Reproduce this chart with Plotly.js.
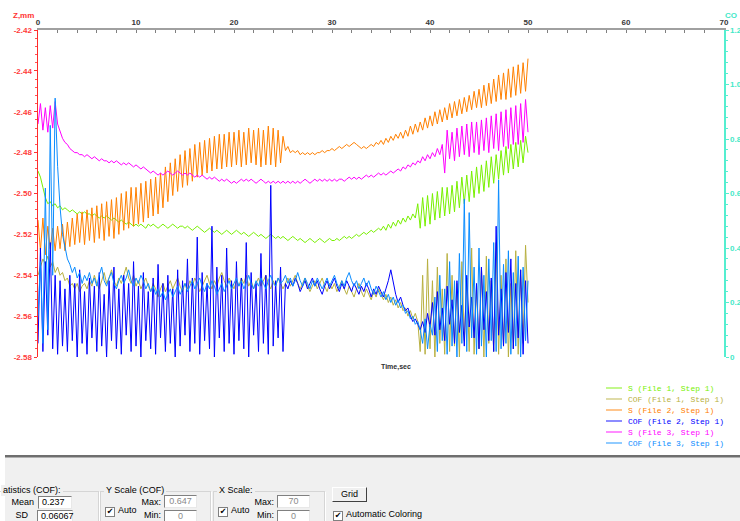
<!DOCTYPE html>
<html><head><meta charset="utf-8">
<script src="https://cdn.plot.ly/plotly-3.0.1.min.js"></script>
<style>
html,body{margin:0;padding:0;background:#fff;}
#wrap{position:relative;width:740px;height:521px;overflow:hidden;font-family:'Liberation Sans',Arial,sans-serif;}
#chart{position:absolute;left:0;top:0;width:740px;height:521px;}
.ui{position:absolute;font-size:9px;color:#000;white-space:nowrap;line-height:11px;}
.r{text-align:right;}
.panel{position:absolute;left:5px;top:455px;width:740px;height:70px;background:#f0f0f0;border-top:2px solid #6e6e6e;box-shadow:inset 0 1px 0 #b0b0b0;}
.grp{position:absolute;border:1px solid #d5d5d5;box-shadow:1px 1px 0 #fff;}
.lbl{position:absolute;background:#f0f0f0;padding:0 2px;font-size:9px;line-height:11px;white-space:nowrap;}
.tb{position:absolute;background:#fff;border-top:1px solid #808080;border-left:1px solid #808080;border-right:1px solid #e8e8e8;border-bottom:1px solid #e8e8e8;font-size:9px;line-height:11px;text-align:center;white-space:nowrap;}
.cb{position:absolute;width:8px;height:8px;background:#fff;border:1px solid #808080;font-size:8px;line-height:8px;text-align:center;font-family:'DejaVu Sans';}
.btn{position:absolute;background:#f0f0f0;border-top:1px solid #fff;border-left:1px solid #fff;border-right:1px solid #404040;border-bottom:1px solid #404040;font-size:9px;line-height:12px;text-align:center;}
</style></head>
<body>
<div id="wrap">
<div id="chart"></div>
<div class="panel"></div>
<div class="grp" style="left:-10px;top:491px;width:107px;height:40px;"></div>
<div class="lbl" style="left:1px;top:485px;">atistics (COF):</div>
<div class="ui r" style="left:6px;width:28px;top:497px;">Mean</div>
<div class="tb" style="left:38px;top:496px;width:32px;height:11px;text-align:left;padding-left:3px;width:29px;">0.237</div>
<div class="ui r" style="left:6px;width:22px;top:510px;">SD</div>
<div class="tb" style="left:37px;top:510px;width:31px;height:10px;padding-left:3px;text-align:left;">0.06067</div>
<div class="grp" style="left:100px;top:491px;width:109px;height:40px;"></div>
<div class="lbl" style="left:104px;top:485px;">Y Scale (COF)</div>
<div class="cb" style="left:105px;top:507px;">✔</div>
<div class="ui" style="left:118px;top:505px;">Auto</div>
<div class="ui r" style="left:130px;width:31px;top:497px;">Max:</div>
<div class="tb" style="left:164px;top:495px;width:31px;height:11px;color:#8a8a8a;">0.647</div>
<div class="ui r" style="left:130px;width:31px;top:510px;">Min:</div>
<div class="tb" style="left:164px;top:510px;width:31px;height:10px;color:#8a8a8a;">0</div>
<div class="grp" style="left:213px;top:491px;width:110px;height:40px;"></div>
<div class="lbl" style="left:217px;top:485px;">X Scale:</div>
<div class="cb" style="left:218px;top:507px;">✔</div>
<div class="ui" style="left:231px;top:505px;">Auto</div>
<div class="ui r" style="left:243px;width:31px;top:497px;">Max:</div>
<div class="tb" style="left:277px;top:495px;width:31px;height:11px;color:#8a8a8a;">70</div>
<div class="ui r" style="left:243px;width:31px;top:510px;">Min:</div>
<div class="tb" style="left:277px;top:510px;width:31px;height:10px;color:#8a8a8a;">0</div>
<div class="btn" style="left:332px;top:487px;width:33px;height:13px;">Grid</div>
<div class="cb" style="left:333px;top:511px;">✔</div>
<div class="ui" style="left:346px;top:509px;">Automatic Coloring</div>
</div>
<script>
// ---------- data (sampled every 0.25 s from t = 0 to 50 s) ----------
const sampleStart = 0;
const sampleStep = 0.25;

const seriesNames = ['S (File 1, Step 1)','COF (File 1, Step 1)','S (File 2, Step 1)','COF (File 2, Step 1)','S (File 3, Step 1)','COF (File 3, Step 1)'];

// Z, mm (left axis)
const sFile1 = [
-2.489,-2.492,-2.497,-2.502,-2.505,-2.504,-2.506,-2.505,-2.507,
-2.506,-2.508,-2.507,-2.508,-2.509,-2.508,-2.509,-2.510,-2.509,-2.510,-2.509,-2.510,
-2.510,-2.511,-2.510,-2.511,-2.512,-2.511,-2.512,-2.511,-2.512,-2.513,-2.512,-2.513,-2.514,-2.513,-2.514,-2.515,-2.514,-2.515,-2.516,-2.515,
-2.516,-2.515,-2.516,-2.517,-2.515,-2.516,-2.515,-2.516,-2.517,-2.516,-2.515,-2.516,-2.517,-2.516,-2.515,-2.516,-2.517,-2.516,-2.516,-2.517,
-2.516,-2.517,-2.518,-2.517,-2.516,-2.517,-2.518,-2.519,-2.518,-2.517,-2.518,-2.519,-2.518,-2.519,-2.520,-2.519,-2.518,-2.519,-2.520,-2.519,
-2.518,-2.519,-2.520,-2.519,-2.520,-2.521,-2.520,-2.519,-2.520,-2.521,-2.520,-2.521,-2.522,-2.521,-2.520,-2.521,-2.522,-2.521,-2.522,-2.521,
-2.522,-2.523,-2.522,-2.521,-2.522,-2.523,-2.522,-2.523,-2.524,-2.523,-2.522,-2.523,-2.524,-2.523,-2.522,-2.523,-2.524,-2.523,-2.522,-2.523,
-2.523,-2.522,-2.523,-2.522,-2.521,-2.522,-2.521,-2.522,-2.521,-2.520,-2.521,-2.520,-2.519,-2.520,-2.519,-2.518,-2.519,-2.518,-2.517,-2.518,
-2.516,-2.518,-2.515,-2.517,-2.514,-2.516,-2.513,-2.515,-2.512,-2.514,-2.511,-2.513,-2.510,-2.512,-2.505,
-2.517,-2.502,-2.516,-2.501,-2.515,-2.500,-2.513,-2.499,-2.512,-2.497,-2.511,-2.497,-2.510,-2.496,-2.509,-2.494,
-2.507,-2.492,-2.505,-2.491,-2.504,-2.489,-2.502,-2.487,-2.500,-2.486,-2.499,-2.484,-2.497,-2.482,-2.495,-2.481,
-2.493,-2.479,-2.491,-2.477,-2.490,-2.476,-2.488,-2.475,-2.487,-2.474,-2.485,-2.472,-2.480
];
const sFile2 = [
-2.513,-2.528,-2.512,-2.530,-2.516,-2.527,-2.517,-2.528,-2.516,-2.527,-2.515,-2.528,-2.514,-2.526,-2.512,-2.525,
-2.510,-2.524,-2.509,-2.525,-2.508,-2.523,-2.507,-2.524,-2.506,-2.522,-2.505,-2.523,-2.504,-2.521,-2.503,-2.522,
-2.502,-2.520,-2.500,-2.518,-2.499,-2.517,-2.497,-2.516,-2.497,-2.515,-2.495,-2.514,-2.494,-2.512,-2.493,-2.511,
-2.492,-2.510,-2.490,-2.507,-2.487,-2.504,-2.485,-2.501,-2.483,-2.499,-2.481,-2.497,-2.479,-2.496,-2.478,-2.494,
-2.476,-2.492,-2.475,-2.491,-2.474,-2.490,-2.473,-2.489,-2.472,-2.488,-2.471,-2.488,-2.471,-2.487,-2.470,-2.487,
-2.470,-2.486,-2.469,-2.487,-2.470,-2.486,-2.468,-2.485,-2.469,-2.486,-2.468,-2.487,-2.469,-2.486,-2.467,-2.486,
-2.468,-2.487,-2.469,-2.485,-2.472,-2.479,-2.477,-2.480,-2.479,-2.480,-2.479,-2.481,-2.480,-2.481,-2.480,-2.481,
-2.480,-2.481,-2.480,-2.480,-2.479,-2.480,-2.479,-2.479,-2.478,-2.479,-2.478,-2.477,-2.478,-2.477,-2.476,-2.477,
-2.476,-2.475,-2.476,-2.477,-2.478,-2.477,-2.478,-2.477,-2.476,-2.477,-2.475,-2.476,-2.474,-2.476,-2.473,-2.475,
-2.472,-2.474,-2.471,-2.473,-2.470,-2.473,-2.469,-2.472,-2.467,-2.471,-2.466,-2.470,-2.465,-2.469,-2.463,-2.468,
-2.462,-2.467,-2.460,-2.466,-2.459,-2.465,-2.458,-2.464,-2.456,-2.463,-2.455,-2.462,-2.454,-2.461,-2.453,-2.460,
-2.452,-2.459,-2.450,-2.458,-2.449,-2.458,-2.447,-2.457,-2.446,-2.456,-2.444,-2.455,-2.442,-2.454,-2.441,-2.454,
-2.439,-2.453,-2.438,-2.452,-2.437,-2.451,-2.436,-2.450,-2.434
];
const sFile3 = [
-2.466,-2.456,-2.469,-2.458,-2.470,-2.457,-2.468,-2.455,-2.466,-2.470,-2.473,-2.475,-2.476,-2.478,-2.479,-2.480,
-2.480,-2.481,-2.481,-2.482,-2.481,-2.482,-2.483,-2.482,-2.483,-2.484,-2.483,-2.484,-2.484,-2.485,-2.484,-2.485,
-2.484,-2.485,-2.486,-2.485,-2.486,-2.485,-2.486,-2.487,-2.486,-2.487,-2.488,-2.487,-2.488,-2.489,-2.490,-2.489,
-2.490,-2.491,-2.490,-2.491,-2.490,-2.489,-2.490,-2.491,-2.490,-2.489,-2.490,-2.491,-2.490,-2.491,-2.490,-2.491,
-2.492,-2.491,-2.492,-2.491,-2.492,-2.493,-2.492,-2.493,-2.492,-2.493,-2.494,-2.493,-2.494,-2.493,-2.494,-2.495,
-2.494,-2.495,-2.494,-2.493,-2.494,-2.493,-2.494,-2.493,-2.494,-2.495,-2.494,-2.493,-2.494,-2.495,-2.494,-2.495,
-2.494,-2.495,-2.494,-2.495,-2.494,-2.495,-2.494,-2.495,-2.494,-2.495,-2.494,-2.495,-2.494,-2.493,-2.494,-2.495,
-2.494,-2.493,-2.494,-2.493,-2.494,-2.493,-2.494,-2.493,-2.494,-2.493,-2.494,-2.493,-2.493,-2.494,-2.493,-2.492,
-2.493,-2.492,-2.493,-2.492,-2.493,-2.492,-2.491,-2.492,-2.491,-2.492,-2.491,-2.490,-2.491,-2.490,-2.491,-2.490,
-2.489,-2.490,-2.489,-2.488,-2.489,-2.487,-2.488,-2.486,-2.487,-2.485,-2.486,-2.484,-2.485,-2.482,-2.484,-2.481,
-2.483,-2.480,-2.482,-2.478,-2.481,-2.476,-2.490,-2.469,-2.483,-2.470,-2.484,-2.468,-2.482,-2.467,-2.481,-2.466,
-2.482,-2.465,-2.480,-2.465,-2.481,-2.464,-2.479,-2.463,-2.480,-2.462,-2.478,-2.461,-2.479,-2.460,-2.477,-2.459,
-2.478,-2.458,-2.476,-2.457,-2.476,-2.456,-2.475,-2.454,-2.470
];

// COF (right axis)
const cofFile1 = [
0.30,0.33,0.36,0.34,0.37,0.33,0.35,0.31,0.33,
0.30,0.31,0.28,0.29,0.26,0.27,0.25,0.27,0.24,0.26,0.27,0.25,
0.28,0.26,0.30,0.27,0.25,0.28,0.31,0.27,0.29,0.32,0.28,0.26,0.29,0.27,0.30,0.33,0.29,0.27,0.30,0.26,
0.28,0.25,0.27,0.29,0.26,0.24,0.27,0.25,0.22,0.25,0.27,0.24,0.26,0.28,0.25,0.27,0.29,0.26,0.24,0.27,
0.25,0.28,0.26,0.29,0.27,0.24,0.26,0.28,0.30,0.27,0.25,0.28,0.26,0.29,0.31,0.28,0.26,0.29,0.27,0.25,
0.28,0.26,0.29,0.27,0.30,0.26,0.28,0.25,0.27,0.29,0.26,0.28,0.30,0.27,0.25,0.28,0.26,0.29,0.27,0.25,
0.27,0.29,0.26,0.28,0.30,0.27,0.25,0.27,0.29,0.26,0.24,0.26,0.28,0.25,0.27,0.29,0.26,0.24,0.27,0.25,
0.27,0.24,0.26,0.28,0.25,0.23,0.26,0.24,0.22,0.25,0.27,0.24,0.22,0.25,0.23,0.21,0.24,0.22,0.25,0.23,
0.21,0.23,0.20,0.22,0.19,0.21,0.18,0.20,0.17,0.18,0.15,0.17,0.14,0.16,0.13,
0.02,0.30,0.01,0.36,0.03,0.28,0.00,0.33,0.05,0.25,0.01,0.38,0.02,0.30,0.04,0.27,0.00,0.35,0.06,0.29,
0.02,0.40,0.01,0.26,0.03,0.33,0.00,0.37,0.05,0.28,0.02,0.42,0.01,0.30,0.04,0.36,0.00,0.27,0.03,0.39,
0.01,0.32,0.05,0.41,0.20
];
const cofFile2 = [
0.05,0.40,0.02,0.35,0.08,0.42,0.03,0.30,0.01,
0.28,0.04,0.25,0.02,0.30,0.06,0.27,0.00,0.32,0.05,0.24,0.01,
0.29,0.07,0.26,0.02,0.31,0.04,0.23,0.00,0.28,0.06,0.33,0.03,0.25,0.01,0.30,0.08,0.27,0.02,0.35,0.04,
0.26,0.00,0.31,0.06,0.24,0.03,0.29,0.01,0.34,0.07,0.27,0.02,0.30,0.05,0.25,0.00,0.32,0.04,0.28,0.08,
0.36,0.02,0.29,0.05,0.44,0.01,0.31,0.06,0.27,0.03,0.48,0.00,0.33,0.07,0.30,0.02,0.40,0.05,0.28,0.01,
0.35,0.06,0.29,0.03,0.42,0.00,0.31,0.08,0.27,0.02,0.38,0.05,0.30,0.01,0.63,0.04,0.28,0.07,0.33,0.02,
0.27,0.25,0.28,0.26,0.29,0.27,0.24,0.26,0.28,0.25,0.27,0.29,0.26,0.28,0.25,0.23,0.26,0.28,0.25,0.27,
0.29,0.26,0.24,0.27,0.25,0.28,0.26,0.24,0.27,0.25,0.23,0.26,0.24,0.27,0.25,0.22,0.25,0.23,0.26,0.24,
0.22,0.25,0.28,0.32,0.27,0.23,0.20,0.22,0.19,0.17,0.18,0.15,0.13,0.14,0.12,
0.10,0.13,0.09,0.16,0.11,0.20,0.08,0.24,0.10,0.18,0.06,0.26,0.12,0.21,0.05,0.28,0.09,0.19,0.04,0.30,
0.11,0.22,0.07,0.27,0.03,0.33,0.10,0.24,0.06,0.29,0.02,0.48,0.08,0.25,0.04,0.31,0.09,0.36,0.03,0.27,
0.07,0.32,0.01,0.28,0.05
];
const cofFile3 = [
0.15,0.35,0.05,0.62,0.10,0.85,0.30,0.95,0.70,
0.55,0.45,0.40,0.36,0.34,0.31,0.33,0.29,0.31,0.27,0.30,0.28,
0.31,0.27,0.29,0.26,0.30,0.33,0.28,0.26,0.29,0.31,0.27,0.25,0.28,0.30,0.27,0.29,0.32,0.28,0.26,0.29,
0.27,0.30,0.28,0.25,0.27,0.24,0.26,0.23,0.25,0.22,0.24,0.21,0.23,0.25,0.22,0.24,0.26,0.23,0.25,0.27,
0.24,0.26,0.28,0.25,0.27,0.29,0.26,0.24,0.27,0.25,0.28,0.26,0.23,0.25,0.27,0.24,0.26,0.28,0.25,0.27,
0.29,0.26,0.28,0.25,0.27,0.30,0.27,0.25,0.28,0.26,0.29,0.27,0.25,0.28,0.30,0.27,0.26,0.29,0.27,0.28,
0.30,0.27,0.29,0.26,0.28,0.31,0.28,0.26,0.29,0.27,0.25,0.28,0.26,0.29,0.27,0.25,0.27,0.29,0.26,0.28,
0.30,0.27,0.25,0.28,0.26,0.29,0.31,0.28,0.26,0.28,0.25,0.27,0.29,0.26,0.28,0.25,0.23,0.26,0.24,0.22,
0.24,0.21,0.23,0.20,0.22,0.19,0.21,0.18,0.19,0.16,0.17,0.14,0.15,0.12,0.13,
0.10,0.05,0.14,0.03,0.12,0.08,0.22,0.02,0.30,0.06,0.25,0.01,0.35,0.04,0.28,0.00,0.38,0.05,0.58,0.02,
0.53,0.07,0.33,0.01,0.40,0.04,0.30,0.00,0.36,0.06,0.42,0.02,0.65,0.03,0.34,0.05,0.39,0.01,0.31,0.04,
0.37,0.00,0.33,0.06,0.28
];

// axis ticks
const timeTickVals = [0,10,20,30,40,50,60,70];
const timeTickText = ['0','10','20','30','40','50','60','70'];
const zTickVals = [-2.42,-2.44,-2.46,-2.48,-2.50,-2.52,-2.54,-2.56,-2.58];
const zTickText = ['-2.42','-2.44','-2.46','-2.48','-2.50','-2.52','-2.54','-2.56','-2.58'];
const cofTickVals = [0,0.2,0.4,0.6,0.8,1.0,1.2];
const cofTickText = ['0','0.2','0.4','0.6','0.8','1.0','1.2'];

// ---------- drawing ----------
const seriesData = [sFile1, cofFile1, sFile2, cofFile2, sFile3, cofFile3];
const seriesAxis = ['y','y2','y','y2','y','y2'];
const seriesColors = ['#78f000','#b8b040','#ff8000','#0000ff','#ff00ff','#0a8cff'];

const traces = seriesData.map((d, k) => ({
  type: 'scatter', mode: 'lines', name: seriesNames[k],
  x0: sampleStart, dx: sampleStep, y: d, yaxis: seriesAxis[k],
  line: {color: seriesColors[k], width: 1}, hoverinfo: 'skip'
}));

const W = 740, H = 521, L = 38, R = 16, T = 30, B = 164;
const pw = W - L - R, ph = H - T - B;
const px = v => (v - L) / pw;
const py = v => (H - B - v) / ph;

const annotations = [
  {text:'<b>Z,mm</b>', xref:'paper', yref:'paper', x:px(23), y:py(16), xanchor:'center', yanchor:'middle', showarrow:false, font:{family:'Liberation Sans', size:8, color:'#ff3333'}},
  {text:'<b>CO</b>', xref:'paper', yref:'paper', x:px(738), y:py(16), xanchor:'right', yanchor:'middle', showarrow:false, borderpad:0, font:{family:'Liberation Sans', size:8, color:'#44e8c8'}},
  {text:'<b>Time,sec</b>', xref:'paper', yref:'paper', x:px(396), y:py(367), xanchor:'center', yanchor:'middle', showarrow:false, font:{family:'Liberation Sans', size:7, color:'#303030'}}
];
const shapes = [];
seriesNames.forEach((nm, k) => {
  const rowY = 388 + k * 11;
  shapes.push({type:'line', xref:'paper', yref:'paper', x0:px(606), x1:px(622), y0:py(rowY), y1:py(rowY), line:{color:seriesColors[k], width:1.5}, opacity:0.6});
  annotations.push({text:nm, xref:'paper', yref:'paper', x:px(626), y:py(rowY), xanchor:'left', yanchor:'middle', showarrow:false, font:{family:'Liberation Mono', size:8, color:seriesColors[k]}});
});

const layout = {
  width: W, height: H,
  margin: {l:L, r:R, t:T, b:B, pad:0},
  paper_bgcolor: '#ffffff', plot_bgcolor: '#ffffff',
  showlegend: false,
  xaxis: {
    side:'top', range:[0,70], tickmode:'array', tickvals:timeTickVals, ticktext:timeTickText,
    ticks:'inside', ticklen:3, tickwidth:1, tickcolor:'#808080',
    showline:true, linecolor:'#a0a0a0', linewidth:2, showgrid:false, zeroline:false,
    tickfont:{family:'Liberation Sans', size:8, color:'#383838', weight:'bold'},
    minor:{dtick:2, tick0:0, ticks:'inside', ticklen:3, tickcolor:'#808080', showgrid:false}
  },
  yaxis: {
    range:[-2.58,-2.42], tickmode:'array', tickvals:zTickVals, ticktext:zTickText,
    ticks:'outside', ticklen:3, tickcolor:'#ff3333',
    showline:true, linecolor:'#ff2a2a', linewidth:1.5, showgrid:false, zeroline:false,
    tickfont:{family:'Liberation Sans', size:8, color:'#ff3b3b', weight:'bold'},
    minor:{dtick:0.004, tick0:0, ticks:'outside', ticklen:2, tickcolor:'#ff5555', showgrid:false}
  },
  yaxis2: {
    overlaying:'y', side:'right', range:[0,1.2], tickmode:'array', tickvals:cofTickVals, ticktext:cofTickText,
    ticks:'outside', ticklen:3, tickcolor:'#55eed0',
    showline:true, linecolor:'#55eed0', linewidth:1.5, showgrid:false, zeroline:false,
    tickfont:{family:'Liberation Sans', size:8, color:'#44e8c8', weight:'bold'},
    minor:{dtick:0.04, tick0:0, ticks:'outside', ticklen:2, tickcolor:'#55eed0', showgrid:false}
  },
  annotations: annotations,
  shapes: shapes
};

Plotly.newPlot('chart', traces, layout, {staticPlot:true, displayModeBar:false});
</script>
</body></html>
